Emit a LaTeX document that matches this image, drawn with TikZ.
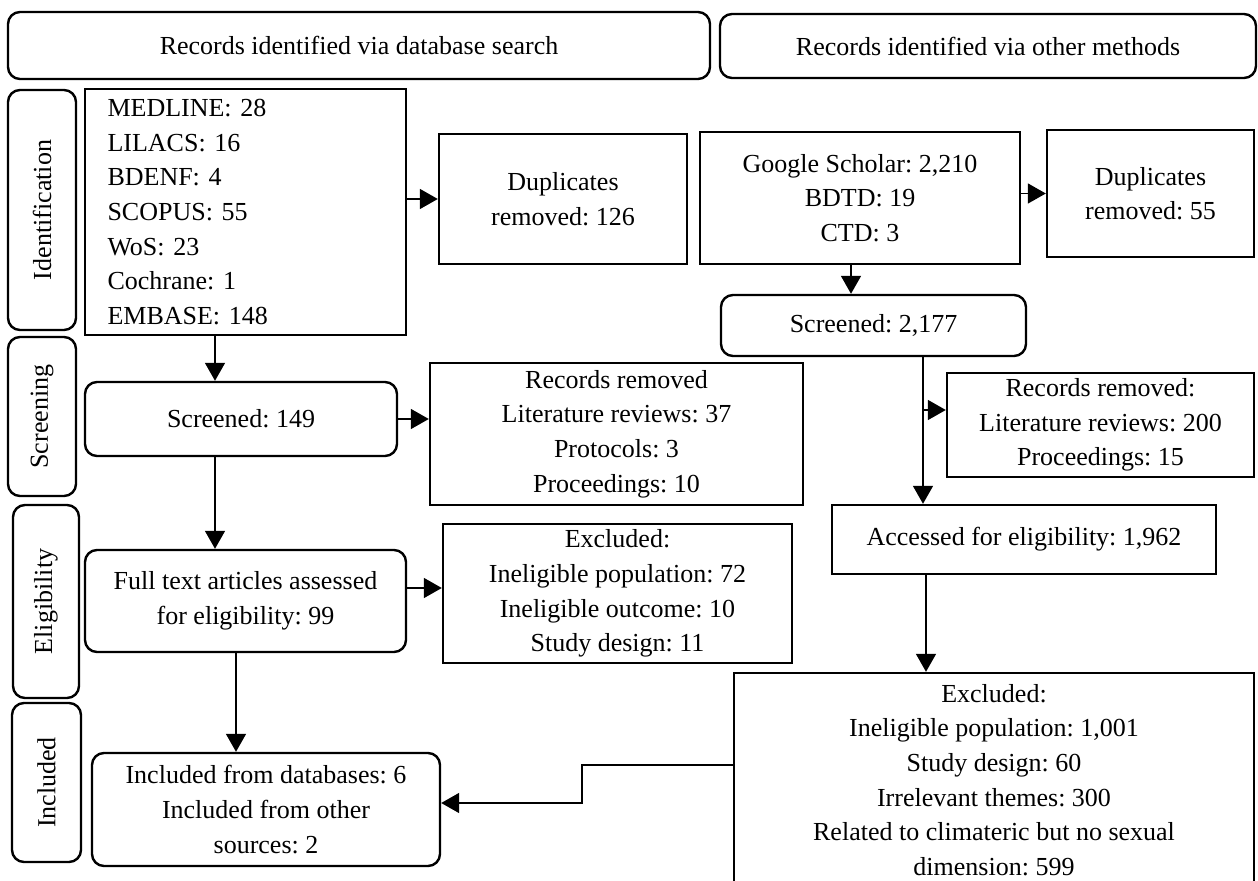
\documentclass[tikz,border=0pt]{standalone}
\usepackage{fontspec}
\setmainfont{Liberation Serif}
\frenchspacing
\usetikzlibrary{arrows.meta}
\tikzset{
    rec/.style={rectangle, draw=black, very thick, align=center, inner sep=2pt, font=\fontsize{13}{17.3}\selectfont},
    rrec/.style={rec, rounded corners=6pt},
    stage/.style={rrec, rotate=90},
    link/.style={->, thick},
}

\begin{document}
\begin{tikzpicture}[x=0.5pt, y=-0.5pt, >={Triangle[width=10pt,length=9pt]}]
    \useasboundingbox (0,0) rectangle (1258,881);
    % headers
    \node [rrec, minimum width=351pt, minimum height=33.5pt] (hdrdb) at (359,45.5) {Records identified via database search};
    \node [rrec, minimum width=268pt, minimum height=32pt] (hdrot) at (988,46) {Records identified via other methods};
    % stages
    \node [stage, minimum width=120pt, minimum height=34pt] (ident) at (42,210) {Identification};
    \node [stage, minimum width=79.5pt, minimum height=34pt] (screen) at (42,416.5) {Screening};
    \node [stage, minimum width=96.5pt, minimum height=33pt] (elig) at (46,601.5) {Eligibility};
    \node [stage, minimum width=79.5pt, minimum height=34.5pt] (incl) at (46.5,782.5) {Included};
    % database branch
    \node [rec, minimum width=160.5pt, minimum height=123pt, text width=138pt, align=left] (db) at (245.5,212)
        {MEDLINE: 28\\LILACS: 16\\BDENF: 4\\SCOPUS: 55\\WoS: 23\\Cochrane: 1\\EMBASE: 148};
    \node [rec, minimum width=124pt, minimum height=65pt] (dupdb) at (563,199) {Duplicates\\removed: 126};
    \node [rrec, minimum width=156pt, minimum height=37pt] (scrdb) at (241,419) {Screened: 149};
    \node [rec, minimum width=186.5pt, minimum height=71pt] (remdb) at (616.5,434)
        {Records removed\\Literature reviews: 37\\Protocols: 3\\Proceedings: 10};
    \node [rrec, minimum width=160.5pt, minimum height=51pt] (full) at (245.5,601)
        {Full text articles assessed\\for eligibility: 99};
    \node [rec, minimum width=174.5pt, minimum height=69.5pt] (excdb) at (617.5,593.5)
        {Excluded:\\Ineligible population: 72\\Ineligible outcome: 10\\Study design: 11};
    \node [rrec, minimum width=174pt, minimum height=56.5pt] (inc) at (266,809.5)
        {Included from databases: 6\\Included from other\\sources: 2};
    % other methods branch
    \node [rec, minimum width=160pt, minimum height=66pt] (gs) at (860,198) {Google Scholar: 2,210\\BDTD: 19\\CTD: 3};
    \node [rec, minimum width=103.5pt, minimum height=63.5pt] (dupot) at (1150.5,193.5) {Duplicates\\removed: 55};
    \node [rrec, minimum width=152.5pt, minimum height=30.5pt] (scrot) at (873.5,325.5) {Screened: 2,177};
    \node [rec, minimum width=153.5pt, minimum height=52pt] (remot) at (1100.5,425)
        {Records removed:\\Literature reviews: 200\\Proceedings: 15};
    \node [rec, minimum width=192pt, minimum height=34.5pt] (acc) at (1024,539.5) {Accessed for eligibility: 1,962};
    \node [rec, minimum width=260pt, minimum height=107pt] (excot) at (994,780)
        {Excluded:\\Ineligible population: 1,001\\Study design: 60\\Irrelevant themes: 300\\Related to climateric but no sexual\\dimension: 599};
    \coordinate (fork) at (923,410);

    \draw [link] (db.east |- dupdb.west) -- (dupdb.west);
    \draw [link] ([xshift=-15.25pt]db.south) -- ([xshift=-15.25pt]db.south |- scrdb.north);
    \draw [link] (scrdb.east) -- (scrdb.east -| remdb.west);
    \draw [link] ([xshift=-13pt]scrdb.south) -- ([xshift=-13pt]scrdb.south |- full.north);
    \draw [link] ([yshift=6.5pt]full.east) -- ([yshift=6.5pt]full.east -| excdb.west);
    \draw [link] ([xshift=-4.75pt]full.south) -- ([xshift=-4.75pt]full.south |- inc.north);
    \draw [link] (gs.east |- dupot.west) -- (dupot.west);
    \draw [link] ([xshift=-4.5pt]gs.south) -- ([xshift=-4.5pt]gs.south |- scrot.north);
    \draw [link] ([xshift=24.75pt]scrot.south) -- ([xshift=24.75pt]scrot.south |- acc.north);
    \draw [link] (fork) -- (fork -| remot.west);
    \draw [link] ([xshift=-49pt]acc.south) -- ([xshift=-49pt]acc.south |- excot.north);
    \draw [link] ([yshift=7.5pt]excot.west) -- ++(-75.5pt,0pt) |- ([yshift=3.25pt]inc.east);
\end{tikzpicture}
\end{document}
